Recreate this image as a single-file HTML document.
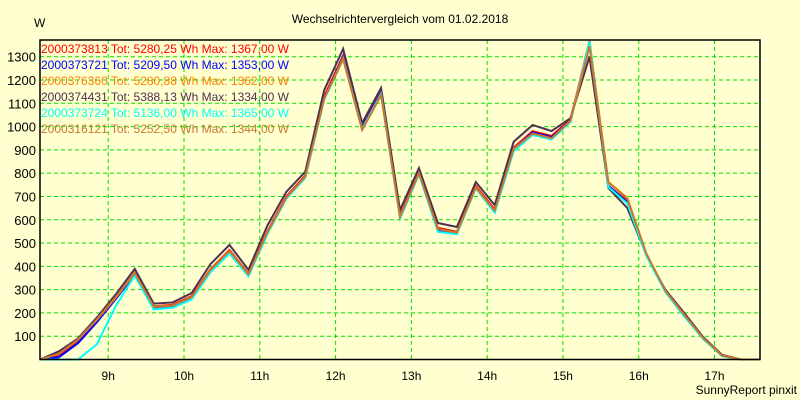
<!DOCTYPE html>
<html><head><meta charset="utf-8"><style>
body{margin:0;background:#ffffd0;}
svg{display:block;font-family:"Liberation Sans",sans-serif;}
</style></head><body>
<svg id="chart" width="800" height="400">
<rect width="800" height="400" fill="#ffffd0"/>
<text x="400" y="23" text-anchor="middle" font-size="12">Wechselrichtervergleich vom 01.02.2018</text>
<text x="34" y="27" font-size="12">W</text>
<text x="797" y="394" text-anchor="end" font-size="12">SunnyReport pinxit</text>
<g id="grid"></g><g id="series"></g><g id="legend"></g><g id="axes"></g>
</svg>
<script>
const categories = ["8:06","8:21","8:36","8:51","9:06","9:21","9:36","9:51","10:06","10:21","10:36","10:51","11:06","11:21","11:36","11:51","12:06","12:21","12:36","12:51","13:06","13:21","13:36","13:51","14:06","14:21","14:36","14:51","15:06","15:21","15:36","15:51","16:06","16:21","16:36","16:51","17:06","17:21","17:36"];
const seriesRed = [0,15,75,165,265,372,228,235,272,388,470,368,550,700,790,1130,1305,1000,1150,620,805,565,548,745,645,910,980,960,1030,1367,745,680,450,295,190,92,17,0,0];
const seriesBlue = [0,10,70,160,260,365,222,228,265,380,462,362,545,695,785,1120,1300,995,1145,615,800,555,540,740,640,905,975,955,1025,1353,745,675,450,292,188,90,15,0,0];
const seriesOrange = [0,25,85,170,265,370,225,232,268,385,465,365,545,695,785,1120,1295,990,1140,615,800,560,545,740,640,905,970,950,1025,1362,762,693,455,295,190,90,15,0,0];
const seriesPurple = [0,35,90,180,280,389,240,245,285,410,492,385,575,720,806,1157,1334,1015,1166,642,822,586,569,762,663,935,1007,981,1036,1300,736,650,449,300,200,96,20,0,0];
const seriesCyan = [0,0,0,65,230,360,215,222,258,375,455,358,538,690,780,1115,1290,990,1140,605,795,548,538,735,630,895,965,945,1020,1365,740,670,445,290,185,88,14,0,0];
const seriesBrown = [0,25,85,172,268,372,228,232,268,385,466,366,546,695,785,1120,1290,985,1135,612,800,560,545,738,640,905,970,950,1025,1344,760,690,455,296,192,92,17,0,0];
const legendLabels = ["2000373813 Tot: 5280,25 Wh Max: 1367,00 W","2000373721 Tot: 5209,50 Wh Max: 1353,00 W","2000376360 Tot: 5280,88 Wh Max: 1362,00 W","2000374431 Tot: 5388,13 Wh Max: 1334,00 W","2000373724 Tot: 5136,00 Wh Max: 1365,00 W","2000316121 Tot: 5252,50 Wh Max: 1344,00 W"];
const yTicks = [100,200,300,400,500,600,700,800,900,1000,1100,1200,1300];
const xTickLabels = ["9h","10h","11h","12h","13h","14h","15h","16h","17h"];
const xTickHours = [9,10,11,12,13,14,15,16,17];

const NS="http://www.w3.org/2000/svg";
const L=40,R=760,T=40,B=359.5;
const startH=8.1, stepH=0.25, pxPerH=(R-L)/9.5;
const yScale=v=>B-v*0.2329;
const xIdx=i=>L+i*stepH*pxPerH;
const xHour=h=>L+(h-startH)*pxPerH;
function mk(tag,parent){const e=document.createElementNS(NS,tag);document.getElementById(parent).appendChild(e);return e;}

yTicks.forEach(v=>{
  const y=yScale(v);
  const g=mk("line","grid");
  
  
  g.setAttribute("x1",L);g.setAttribute("x2",R);g.setAttribute("y1",y);g.setAttribute("y2",y);
  g.setAttribute("stroke","#00e000");g.setAttribute("stroke-dasharray","4,3");
  const t=mk("text","axes");
  
  
  t.setAttribute("x",36);t.setAttribute("y",y+5);t.setAttribute("text-anchor","end");t.setAttribute("font-size","13");
  t.textContent=v;
});
xTickHours.forEach((h,i)=>{
  const x=xHour(h);
  const g=mk("line","grid");
  
  
  g.setAttribute("x1",x);g.setAttribute("x2",x);g.setAttribute("y1",T);g.setAttribute("y2",B);
  g.setAttribute("stroke","#00e000");g.setAttribute("stroke-dasharray","4,3");
  const t=mk("text","axes");
  
  
  t.setAttribute("x",x);t.setAttribute("y",380);t.setAttribute("text-anchor","middle");t.setAttribute("font-size","12");
  t.textContent=xTickLabels[i];
});
const all=[[seriesRed,"#ff0000","series-red"],[seriesBlue,"#0000ff","series-blue"],[seriesOrange,"#ff8000","series-orange"],[seriesPurple,"#503050","series-purple"],[seriesCyan,"#00ffff","series-cyan"],[seriesBrown,"#c87830","series-brown"]];
all.forEach(([d,c,n],k)=>{
  const p=mk("polyline","series");
  
  
  p.setAttribute("points",d.map((v,i)=>xIdx(i)+","+yScale(v)).join(" "));
  p.setAttribute("fill","none");p.setAttribute("stroke",c);p.setAttribute("stroke-width","2");
  const t=mk("text","legend");
  
  
  t.setAttribute("x",41);t.setAttribute("y",53+k*16);t.setAttribute("font-size","12");t.setAttribute("fill",c);
  t.textContent=legendLabels[k];
});
const f=mk("rect","axes");


f.setAttribute("x",L);f.setAttribute("y",T);f.setAttribute("width",R-L);f.setAttribute("height",B-T);
f.setAttribute("fill","none");f.setAttribute("stroke","#000");f.setAttribute("stroke-width","1.5");
</script>
</body></html>
